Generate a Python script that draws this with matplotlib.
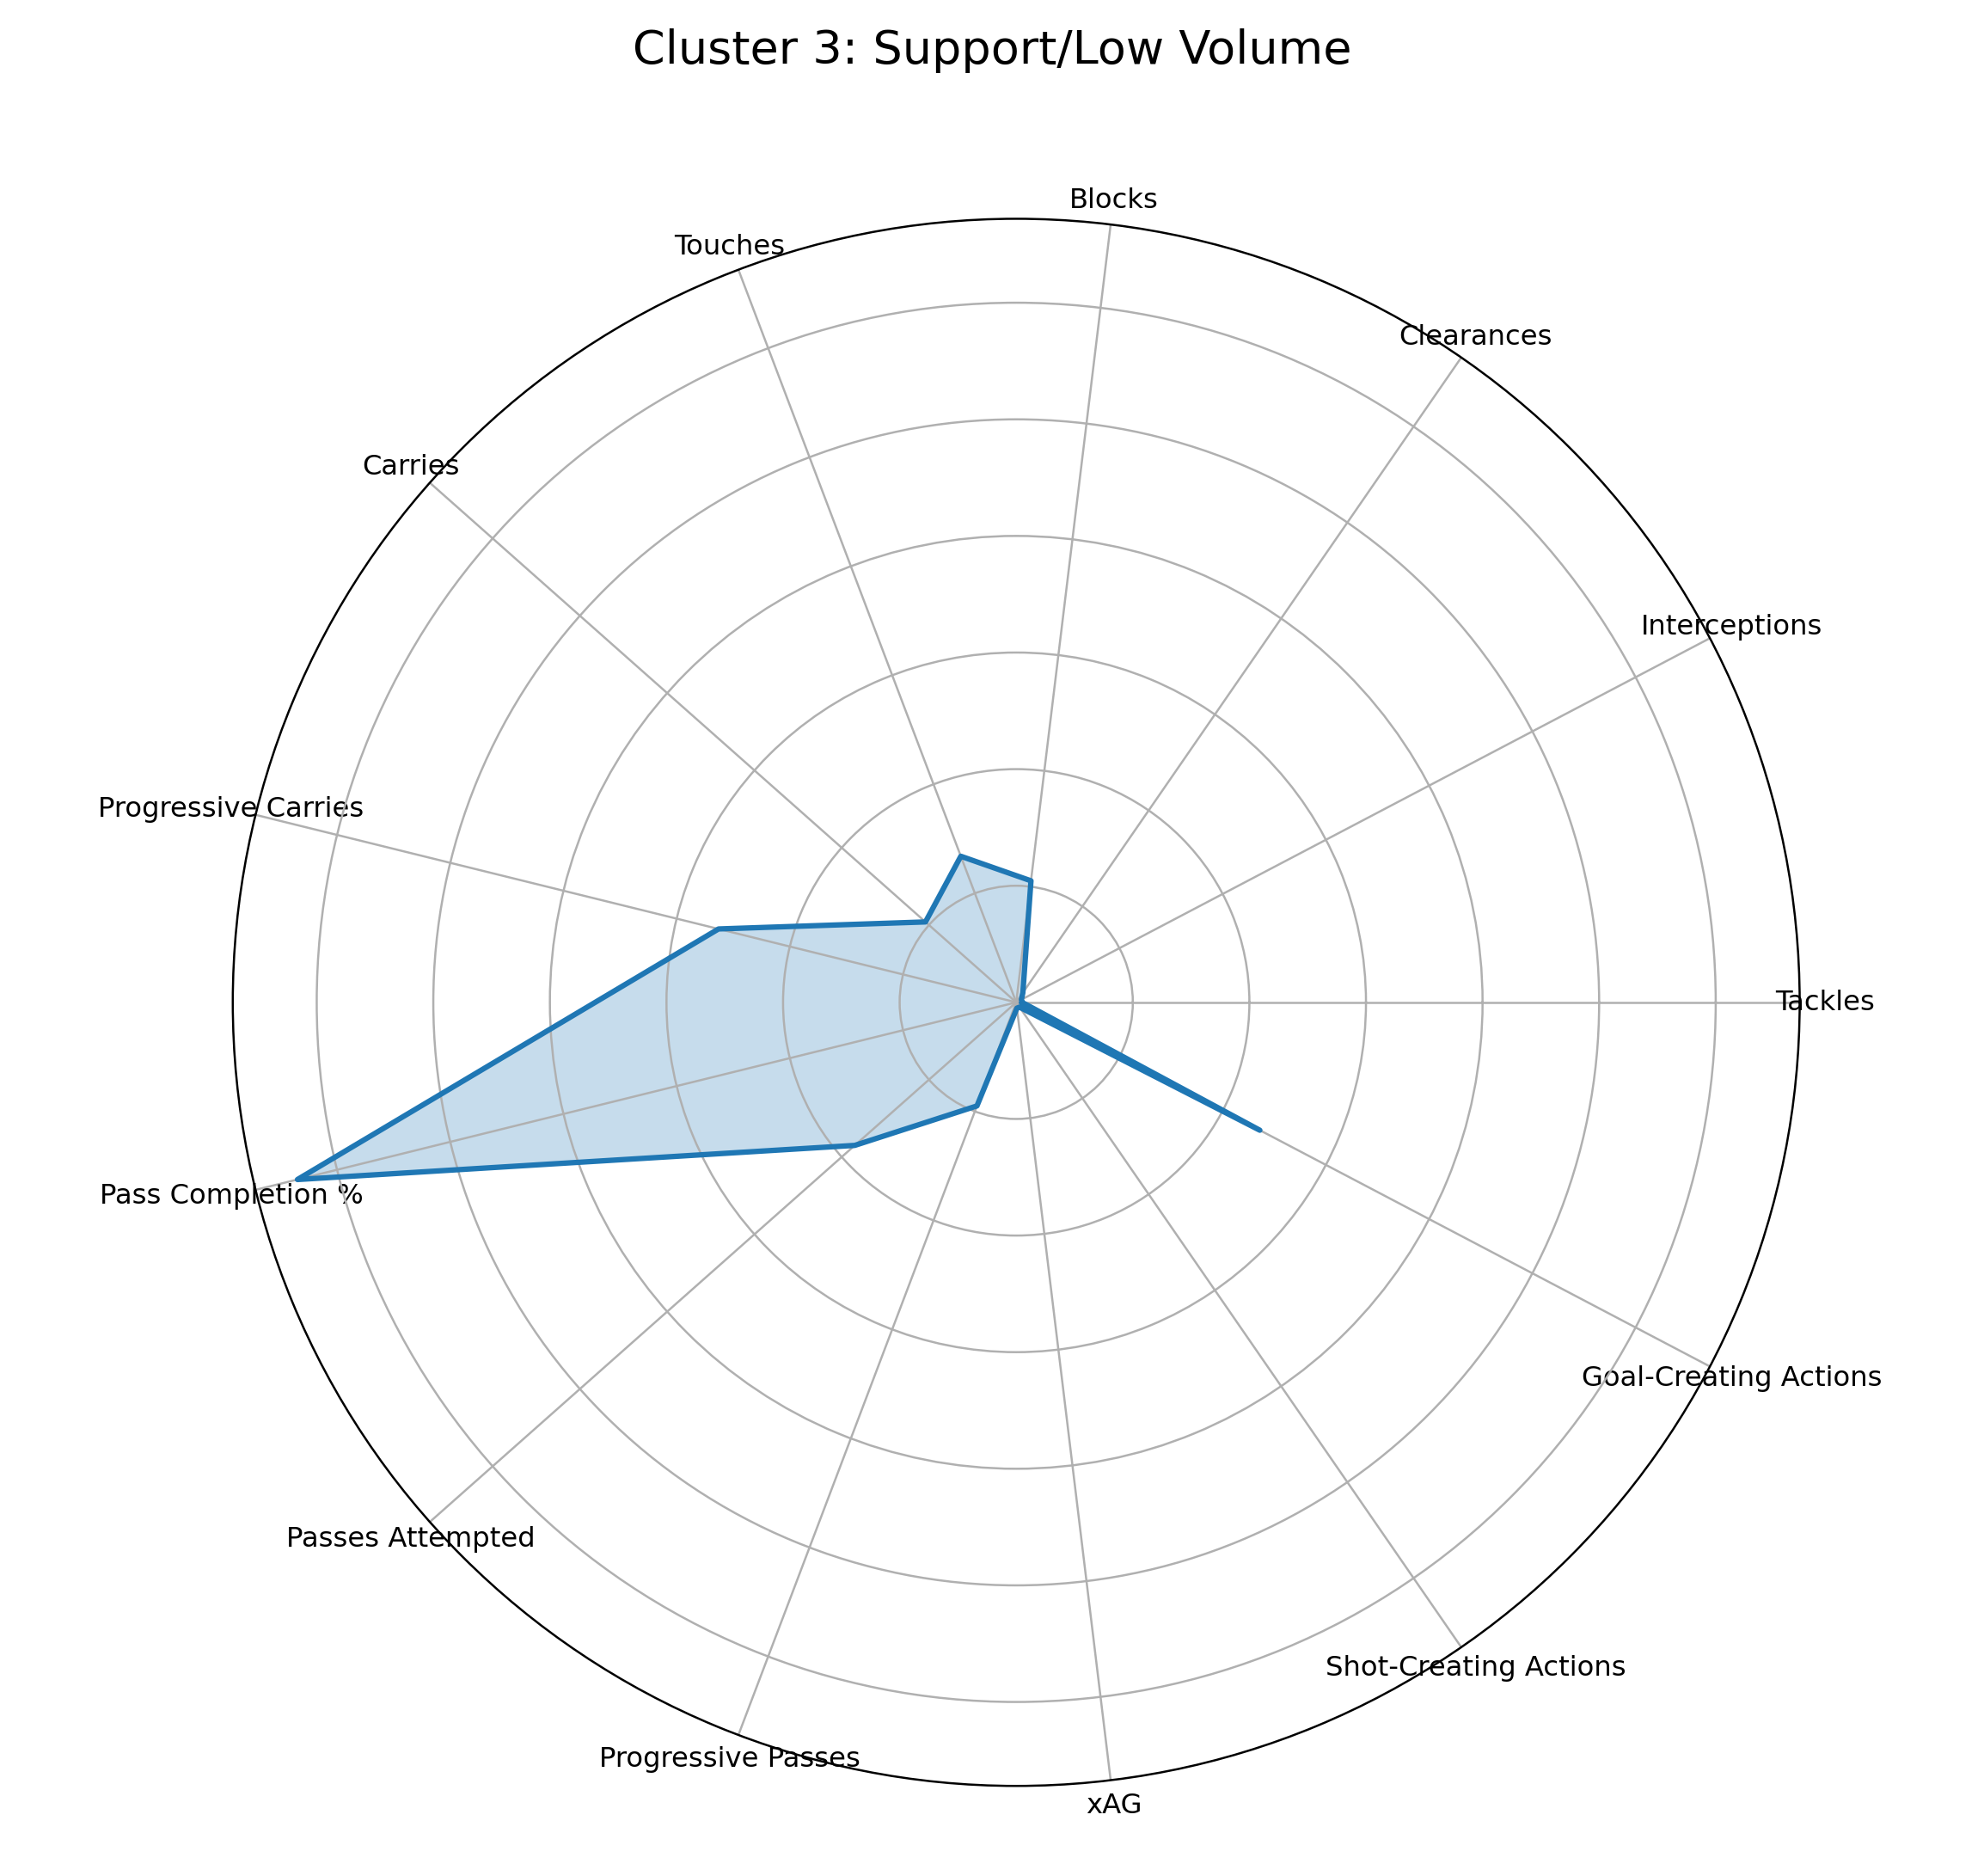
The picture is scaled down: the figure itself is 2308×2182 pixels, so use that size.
import numpy as np
import matplotlib.pyplot as plt

categorias = ["Tackles", "Interceptions", "Clearances", "Blocks", "Touches", "Carries",
              "Progressive Carries", "Pass Completion %", "Passes Attempted",
              "Progressive Passes", "xAG", "Shot-Creating Actions", "Goal-Creating Actions"]
valores = [0.05, 0.05, 0.1, 1.05, 1.34, 1.04, 2.63, 6.35, 1.85, 0.95, 0.05, 0.05, 2.36]

n = len(categorias)
angulos = np.linspace(0, 2 * np.pi, n, endpoint=False).tolist()
v = valores + valores[:1]
a = angulos + angulos[:1]

fig = plt.figure(figsize=(15.393, 14.553), dpi=150)
ax = fig.add_axes([0.117, 0.048, 0.79, 0.835], polar=True)
ax.plot(a, v, color="#1f77b4", linewidth=3)
ax.fill(a, v, color="#1f77b4", alpha=0.25)
ax.set_xticks(angulos)
ax.set_xticklabels(categorias, fontsize=15.5)
ax.set_ylim(0, 6.72)
ax.set_yticks([1, 2, 3, 4, 5, 6])
ax.set_yticklabels([])
ax.grid(color="#b0b0b0", linewidth=1.2)
ax.spines["polar"].set_linewidth(1.2)
fig.suptitle("Cluster 3: Support/Low Volume", fontsize=26, y=0.985)
fig.savefig("out.png")
